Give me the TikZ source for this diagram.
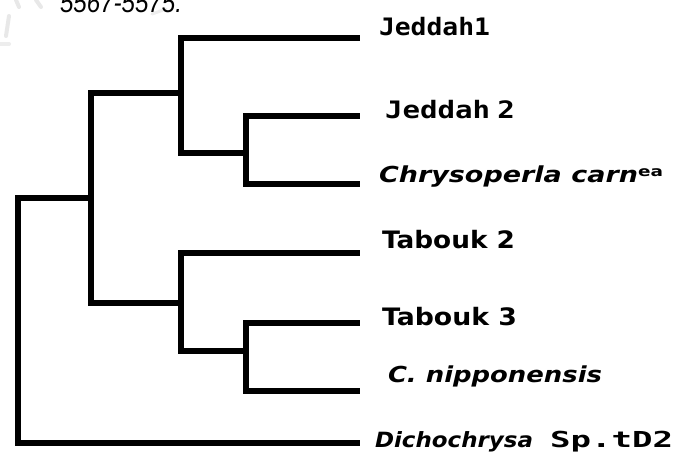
\documentclass[tikz,border=0pt]{standalone}
\usepackage{fontspec}
\usepackage{graphicx}
\setmainfont{DejaVu Sans}
\newfontfamily\monob{DejaVu Sans Mono}[BoldFont={* Bold}]
\newfontfamily\capfont{Liberation Sans}
\newcommand{\fitw}[2]{\resizebox{#1}{\height}{#2}}
\tikzset{
  branch/.style={draw=black, line width=6pt, line join=miter, line cap=butt},
  leaflabel/.style={anchor=base west, inner sep=0pt, outer sep=0pt},
  faint/.style={draw=black!9, line width=4pt, line cap=round},
}
\begin{document}
\begin{tikzpicture}[x=1pt,y=-1pt]
\useasboundingbox (0,0) rectangle (693,451);
\fill[white] (0,0) rectangle (693,451);
% faint watermark remnants
\draw[faint] (16,0) -- (19,7);
\draw[faint] (36,0) -- (41,7);
\draw[faint] (9,16) -- (6,36);
\draw[faint, black!7] (0,44) -- (9,44);
\draw[faint, black!7, line width=3pt] (152,14) -- (166,9);
% clipped caption line at the top
\node[leaflabel] (cap) at (60,12) {\fitw{122pt}{\capfont\itshape\fontsize{28}{28}\selectfont 5567-5575.}};
% internal nodes
\coordinate (root) at (18,320);
\coordinate (n5) at (91,198);
\coordinate (n2) at (181,93);
\coordinate (n1) at (246,153);
\coordinate (n4) at (181,303);
\coordinate (n3) at (246,351);
% leaf ends
\coordinate (eJ1) at (360,38);
\coordinate (eJ2) at (360,116);
\coordinate (eCh) at (360,184);
\coordinate (eT2) at (360,253);
\coordinate (eT3) at (360,323);
\coordinate (eCn) at (360,391);
\coordinate (eD) at (360,443);
% branches
\draw[branch] (root) |- (n5);
\draw[branch] (root) |- (eD);
\draw[branch] (n5) |- (n2);
\draw[branch] (n5) |- (n4);
\draw[branch] (n2) |- (eJ1);
\draw[branch] (n2) |- (n1);
\draw[branch] (n1) |- (eJ2);
\draw[branch] (n1) |- (eCh);
\draw[branch] (n4) |- (eT2);
\draw[branch] (n4) |- (n3);
\draw[branch] (n3) |- (eT3);
\draw[branch] (n3) |- (eCn);
% labels
\node[leaflabel] (lJ1) at (379,35) {\fitw{111pt}{\monob\bfseries\fontsize{24}{24}\selectfont Jeddah1}};
\node[leaflabel] (lJ2) at (385,118) {\fitw{130pt}{\monob\bfseries\fontsize{24}{24}\selectfont Jeddah\kern-0.35em{} 2}};
\node[leaflabel] (lCh) at (379,182) {\fitw{259pt}{\bfseries\itshape\fontsize{22}{22}\selectfont Chrysoperla carn}};
\node[leaflabel] (lChs) at (638,176) {\fitw{25pt}{\bfseries\fontsize{14}{14}\selectfont ea}};
\node[leaflabel] (lT2) at (382,248) {\fitw{133pt}{\bfseries\fontsize{24}{24}\selectfont Tabouk 2}};
\node[leaflabel] (lT3) at (382,325) {\fitw{135pt}{\bfseries\fontsize{24}{24}\selectfont Tabouk 3}};
\node[leaflabel] (lCn) at (388,382) {\fitw{214pt}{\bfseries\itshape\fontsize{22}{22}\selectfont C. nipponensis}};
\node[leaflabel] (lD) at (375,447) {\fitw{158pt}{\bfseries\itshape\fontsize{21}{21}\selectfont Dichochrysa}};
\node[leaflabel] (lDs) at (550,447) {\fitw{123pt}{\monob\bfseries\fontsize{22}{22}\selectfont Sp.tD2}};
\end{tikzpicture}
\end{document}
